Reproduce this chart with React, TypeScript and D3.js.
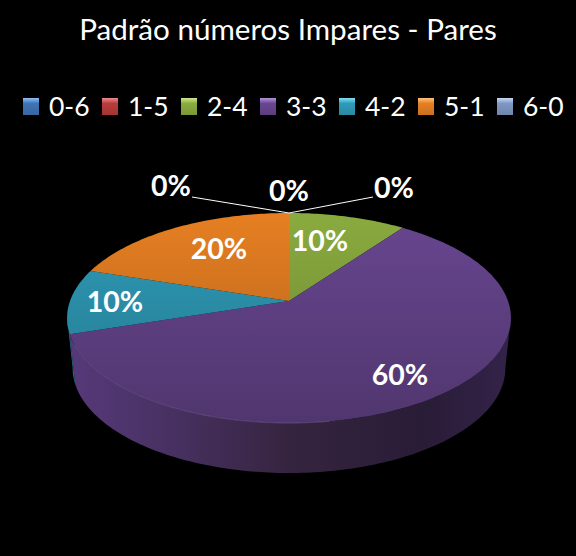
import React from "react";
import * as d3 from "d3";

const W = 576, H = 556;
const title = "Padrão números Impares - Pares";
const categories = ["0-6", "1-5", "2-4", "3-3", "4-2", "5-1", "6-0"];
const values = [0, 0, 1, 6, 1, 2, 0];
const colors = ["#3f74b5", "#b83c3c", "#8aab3f", "#684690", "#2f9bb8", "#e67f22", "#7f97c4"];
const lightColors = ["#8fc0f5", "#f08a8a", "#cfe98a", "#b594dc", "#7fe0f5", "#ffc27a", "#c8d8f5"];
const labelTexts = ["0%", "0%", "10%", "60%", "10%", "20%", "0%"];
const labelX = [394, 289, 320, 400, 115, 219, 171];
const labelY = [188, 191, 241, 375, 302, 249, 186];
const legendX = [23, 102, 181, 260, 339, 418, 497];

// perspective mapping of the unit disc onto the tilted pie
const CX = 289, CY = 301, K = 219, A = 53.5, C = -0.162, DEPTH = 50, BOTTOM_SCALE = 0.975;
const project = (angle: number, r = 1, dy = 0, sx = 1) => {
  const u = Math.sin(angle) * r, v = -Math.cos(angle) * r;
  const d = 1 + C * v;
  return [CX + (K * sx * u) / d, (CY + A * v) / d + dy] as [number, number];
};
const line = d3.line();
const arcs = d3.pie<number>().sort(null)(values);

const arcPts = (a0: number, a1: number, dy = 0, sx = 1) => {
  const n = Math.max(2, Math.ceil((a1 - a0) * 60));
  return d3.range(n + 1).map((i) => project(a0 + ((a1 - a0) * i) / n, 1, dy, sx));
};
const slicePath = (a0: number, a1: number) =>
  line([[CX, CY], ...arcPts(a0, a1)])! + "Z";
const sidePath = (a0: number, a1: number) =>
  line([...arcPts(a0, a1), ...arcPts(a0, a1, DEPTH, BOTTOM_SCALE).reverse()])! + "Z";

// only the front part of the rim is visible
const FRONT0 = Math.PI * 0.55, FRONT1 = Math.PI * 1.45;

export default function App() {
  const rim = arcs
    .map((a, i) => ({ i, a0: Math.max(a.startAngle, FRONT0), a1: Math.min(a.endAngle, FRONT1) }))
    .filter((s) => s.a1 > s.a0);
  return (
    <svg width={W} height={H} viewBox={`0 0 ${W} ${H}`}
      style={{ position: "absolute", left: 0, top: 0, background: "#000" }}
      fontFamily="Lato, 'Open Sans', sans-serif">
      <defs>
        <linearGradient id="rimPurple" x1="0" x2="1" y1="0" y2="0">
          <stop offset="0" stopColor="#56397a" />
          <stop offset="0.25" stopColor="#46305f" />
          <stop offset="0.5" stopColor="#35243f" />
          <stop offset="0.8" stopColor="#291c36" />
          <stop offset="1" stopColor="#33234a" />
        </linearGradient>
        {colors.map((c, i) => (
          <linearGradient key={i} id={`top${i}`} gradientUnits="userSpaceOnUse" x1="0" x2="0" y1="213" y2="423">
            <stop offset="0" stopColor={c} />
            <stop offset="1" stopColor={d3.color(c)!.darker(0.75).formatHex()} />
          </linearGradient>
        ))}
        {colors.map((c, i) => (
          <linearGradient key={i} id={`leg${i}`} x1="0" x2="0" y1="0" y2="1">
            <stop offset="0" stopColor={lightColors[i]} />
            <stop offset="0.32" stopColor={c} />
            <stop offset="1" stopColor={d3.color(c)!.darker(0.35).formatHex()} />
          </linearGradient>
        ))}
      </defs>

      <text x={288} y={40} textAnchor="middle" fontSize={29.6} fill="#fff">{title}</text>

      {categories.map((c, i) => (
        <g key={c}>
          <rect x={legendX[i]} y={98} width={16} height={17} fill={`url(#leg${i})`} />
          <text x={legendX[i] + 26} y={116} fontSize={26.5} fill="#fff">{c}</text>
        </g>
      ))}

      {rim.map((s) => (
        <path key={s.i} d={sidePath(s.a0, s.a1)}
          fill={s.i === 3 ? "url(#rimPurple)" : d3.color(colors[s.i])!.darker(0.9).formatHex()} />
      ))}
      {arcs.map((a, i) =>
        a.endAngle > a.startAngle ? (
          <path key={i} d={slicePath(a.startAngle, a.endAngle)} fill={`url(#top${i})`} />
        ) : null
      )}
      <path d={line(arcPts(Math.PI * 0.95, arcs[3].endAngle - 0.1))!} fill="none" stroke="#8a6aae" strokeWidth={0.6} opacity={0.7} />

      <polyline points="192,197 289,213 373,197" fill="none" stroke="#fff" strokeWidth={1} />

      {labelTexts.map((t, i) => (
        <text key={i} x={labelX[i]} y={labelY[i]} dy="0.35em" textAnchor="middle"
          fontSize={28.5} fontWeight={700} fill="#fff">{t}</text>
      ))}
    </svg>
  );
}
